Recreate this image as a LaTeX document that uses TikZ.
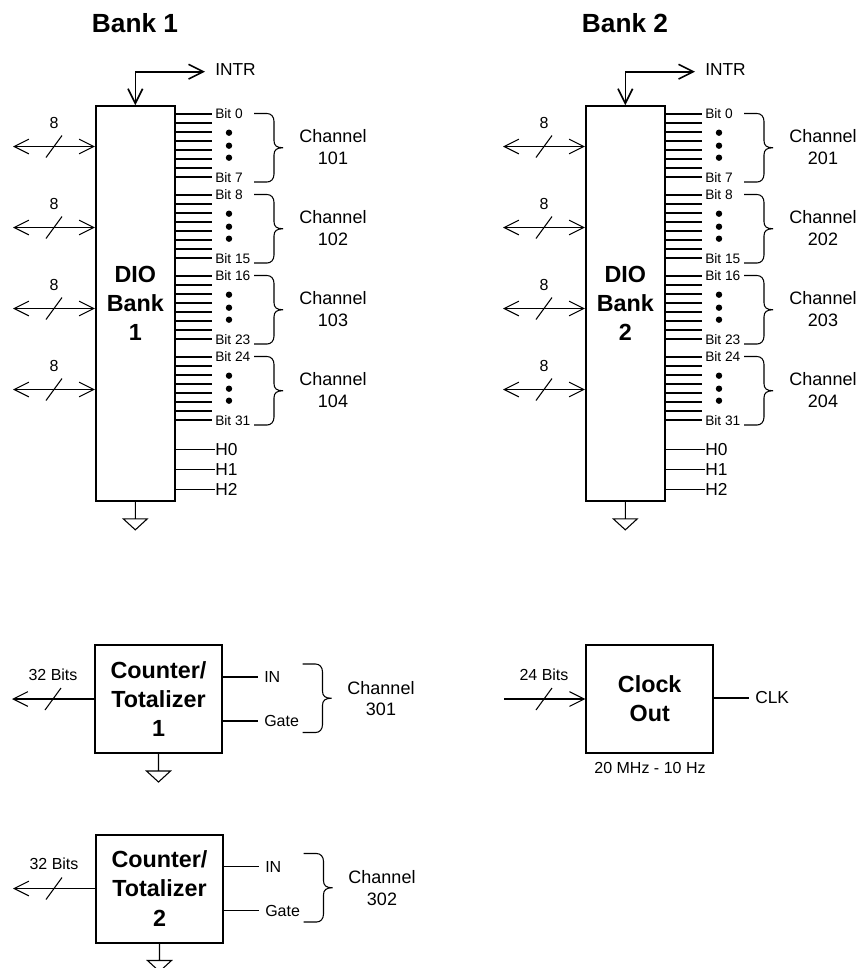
\documentclass[tikz,border=0pt]{standalone}
\usepackage{fontspec}
\setmainfont{Liberation Sans}
\usetikzlibrary{arrows.meta}

\newcommand{\chbrace}[3]{% x, top y, height
  \draw[wire,shift={(#1,#2)}] (0,0) -- (13,0) .. controls (17,0) and (20,3) .. (20,8)
    -- (20,#3/2-7) .. controls (20,#3/2-2) and (23,#3/2) .. (29,#3/2)
    .. controls (23,#3/2) and (20,#3/2+2) .. (20,#3/2+7)
    -- (20,#3-8) .. controls (20,#3-3) and (17,#3) .. (13,#3) -- (0,#3);
}

\begin{document}
\begin{tikzpicture}[
  x=0.75pt,y=-0.75pt,
  >={Straight Barb[length=11pt,width=11pt]},
  wire/.style={line width=0.8pt},
  block/.style={rectangle,draw,line width=1.5pt,align=center,inner sep=0pt,
    font=\fontsize{17.5}{21.8}\selectfont\bfseries},
  title/.style={font=\fontsize{19.7}{24}\selectfont\bfseries},
  bitlab/.style={anchor=west,inner sep=0pt,font=\fontsize{10.3}{12}\selectfont},
  sig/.style={anchor=west,inner sep=0pt,font=\fontsize{13}{15}\selectfont},
  lab/.style={inner sep=0pt,font=\fontsize{12}{15}\selectfont},
  chan/.style={align=center,inner sep=0pt,font=\fontsize{13.5}{16.3}\selectfont},
  slashmark/.pic={\draw[wire] (-8,11) -- (8,-11);},
  gnd/.pic={\draw[wire] (0,0) -- (0,17) (-12,17) -- (12,17) -- (0,28) -- cycle;}
]
  \useasboundingbox (0,0) rectangle (866,968);

  % DIO banks
  \foreach \bk/\dx in {1/0,2/490} {
    \begin{scope}[shift={(\dx,0)}]
      \node[title] (title\bk) at (135,23) {Bank \bk};
      \node[block,minimum width=59pt,minimum height=296pt] (bank\bk) at (135.3,303.5) {DIO\\Bank\\\bk};
      \node[sig] (intr\bk) at (215,70) {INTR};
      \coordinate (intrend\bk) at (205,71.7);
      \draw[<->,line width=1.2pt] (bank\bk.north) |- (intrend\bk);
      \pic at (bank\bk.south) {gnd};

      \foreach \g in {0,...,3} {
        \pgfmathsetmacro{\yt}{114+81*\g}
        \pgfmathsetmacro{\yb}{\yt+32.5}
        \pgfmathtruncatemacro{\first}{8*\g}
        \pgfmathtruncatemacro{\last}{8*\g+7}
        \pgfmathtruncatemacro{\chno}{\bk*100+\g+1}
        % bus on the left
        \coordinate (busend\bk-\g) at (13,\yb);
        \draw[<->,wire] (busend\bk-\g) -- (bank\bk.west |- busend\bk-\g);
        \pic at (54,\yb) {slashmark};
        \node[lab] (buslab\bk-\g) at (54,\yb-24) {8};
        % bit lines
        \foreach \i in {0,...,7} {
          \coordinate (bit\bk-\g-\i) at (212,\yt+9*\i);
          \draw[wire] (bank\bk.east |- bit\bk-\g-\i) -- (bit\bk-\g-\i);
        }
        \node[bitlab] (first\bk-\g) at (215,\yt) {Bit \first};
        \node[bitlab] (last\bk-\g) at (215,\yt+63.5) {Bit \last};
        \foreach \d in {18.7,31.7,43.7} \fill (229,\yt+\d) circle (3.2);
        \chbrace{254}{\yt-0.5}{68.5}
        \node[chan] (chan\chno) at (333,\yb+0.5) {Channel\\\chno};
      }

      % H lines
      \foreach \h/\yh in {0/449.5,1/469.5,2/489.5} {
        \node[sig] (hlab\bk-\h) at (215,\yh) {H\h};
        \draw[wire] (bank\bk.east |- hlab\bk-\h) -- (hlab\bk-\h.west);
      }
    \end{scope}
  }

  % counters
  \foreach \c/\dx/\dy in {1/0/0,2/1/189.5} {
    \begin{scope}[shift={(\dx,\dy)}]
      \node[block,minimum width=95pt,minimum height=81pt] (count\c) at (158.5,699) {Counter/\\Totalizer\\\c};
      \coordinate (countout\c) at (12,699);
      \draw[->,wire] (count\c.west |- countout\c) -- (countout\c);
      \pic at (53,699) {slashmark};
      \node[lab] (countlab\c) at (53,674.5) {32 Bits};
      \node[lab,anchor=west] (in\c) at (264,677) {IN};
      \node[lab,anchor=west] (gate\c) at (264,721) {Gate};
      \draw[wire] (count\c.east |- in\c) -- (in\c.west -| 258,0);
      \draw[wire] (count\c.east |- gate\c) -- (gate\c.west -| 258,0);
      \pic at (count\c.south) {gnd};
      \chbrace{302.5}{664}{68.5}
      \node[chan] (chan30\c) at (381,698.5) {Channel\\30\c};
    \end{scope}
  }

  % clock
  \node[block,minimum width=95pt,minimum height=81pt] (clock) at (649.7,699) {Clock\\Out};
  \coordinate (clkin) at (504,699);
  \draw[->,wire] (clkin) -- (clock.west |- clkin);
  \pic at (544,699) {slashmark};
  \node[lab] (clklab) at (544,675) {24 Bits};
  \node[sig] (clkout) at (755,698) {CLK};
  \draw[wire] (clock.east |- clkout) -- (749,698);
  \node[lab] (clkfreq) at (650,768) {20 MHz - 10 Hz};
\end{tikzpicture}
\end{document}
